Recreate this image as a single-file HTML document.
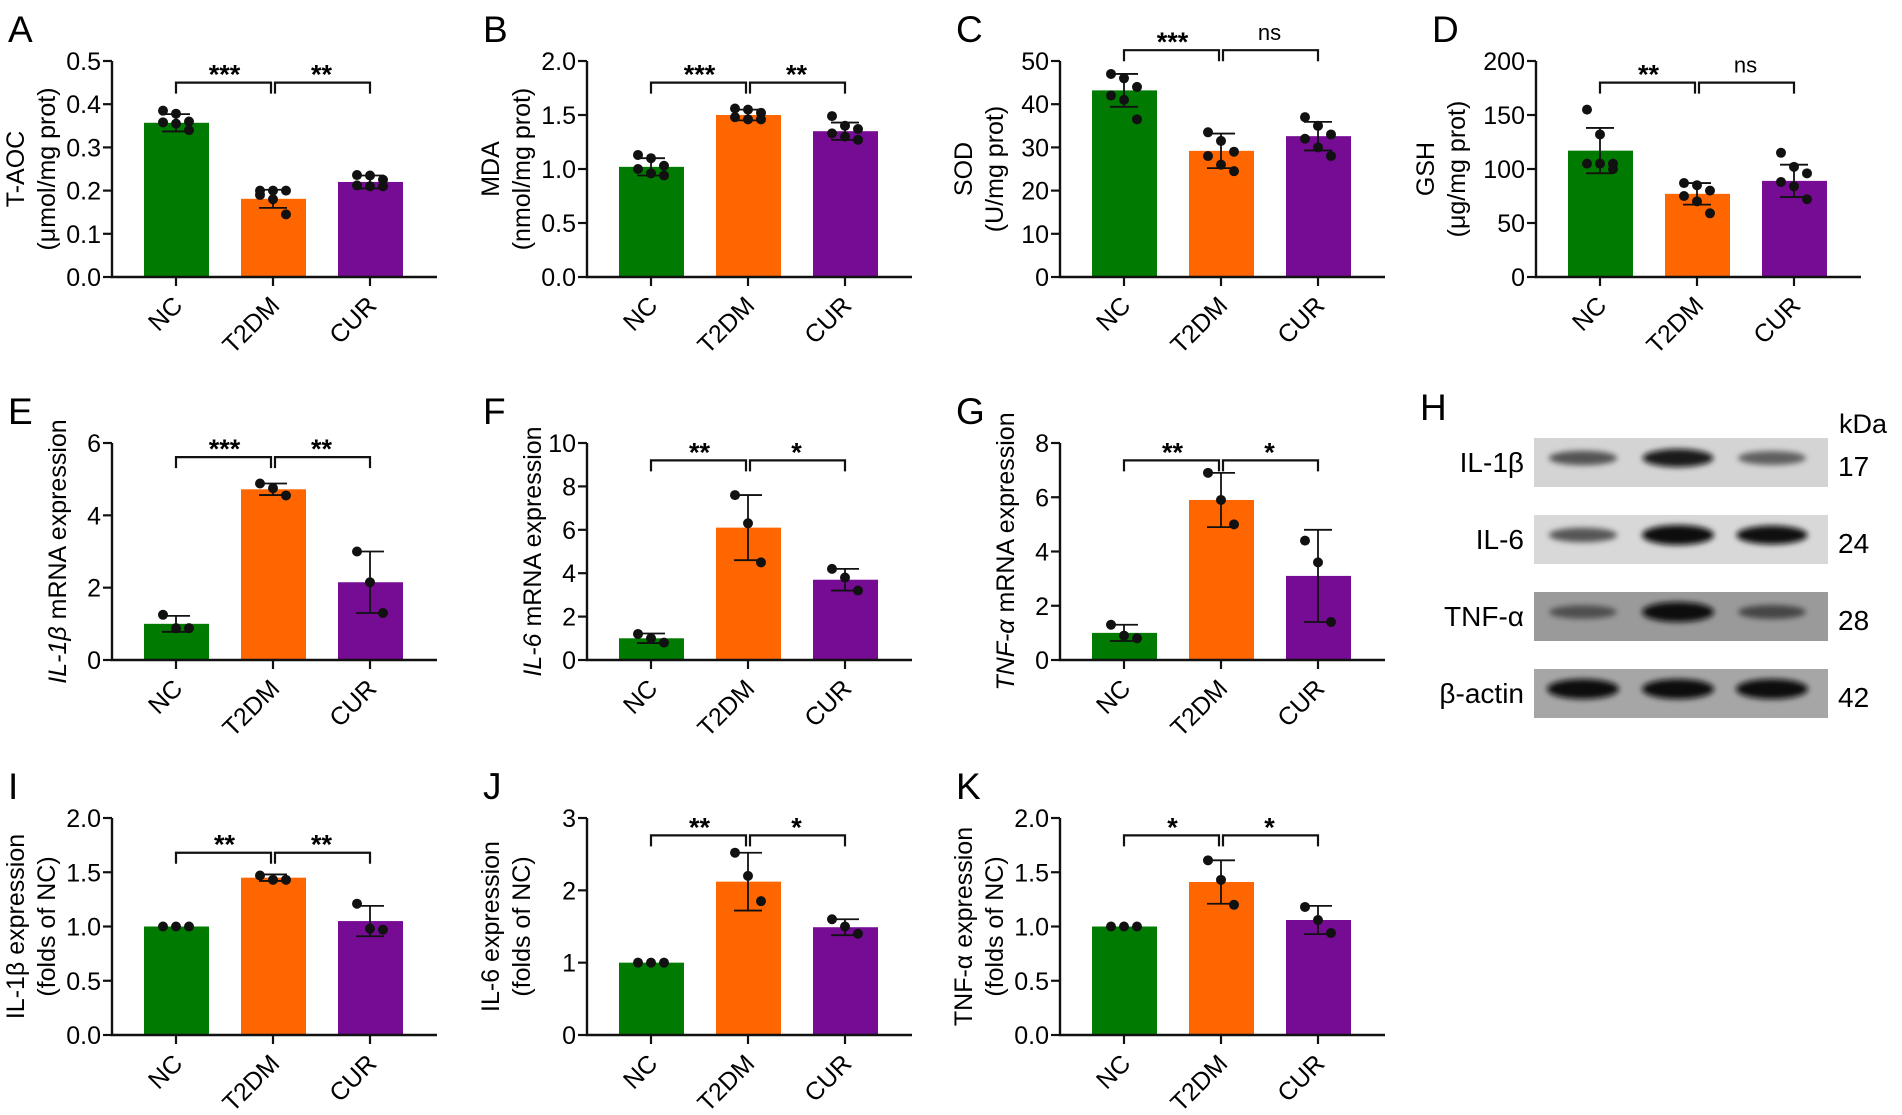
<!DOCTYPE html>
<html><head><meta charset="utf-8"><style>
html,body{margin:0;padding:0;background:#fff;}
svg{display:block;font-family:"Liberation Sans",sans-serif;}
</style></head><body>
<svg id="fig" width="1902" height="1115" viewBox="0 0 1902 1115" xmlns="http://www.w3.org/2000/svg">
<defs>
<filter id="blur" x="-20%" y="-100%" width="140%" height="300%"><feGaussianBlur stdDeviation="3"/></filter>
</defs>
<g id="blot"></g>
</svg>
<script>
const groups = ["NC","T2DM","CUR"];
const colors = ["#007a00","#ff6600","#760b94"];
const panelLetters = ["A","B","C","D","E","F","G","I","J","K"];
const yMaxes = [0.5,2.0,50,200,6,10,8,2.0,3,2.0];
const yTicksA = ["0.0","0.1","0.2","0.3","0.4","0.5"];
const yTicksB = ["0.0","0.5","1.0","1.5","2.0"];
const yTicksC = ["0","10","20","30","40","50"];
const yTicksD = ["0","50","100","150","200"];
const yTicksE = ["0","2","4","6"];
const yTicksF = ["0","2","4","6","8","10"];
const yTicksG = ["0","2","4","6","8"];
const yTicksI = ["0.0","0.5","1.0","1.5","2.0"];
const yTicksJ = ["0","1","2","3"];
const yTicksK = ["0.0","0.5","1.0","1.5","2.0"];
const meansA=[0.357,0.181,0.220], sdA=[0.020,0.021,0.015];
const ptsA=[[0.385,0.378,0.360,0.358,0.355,0.340],[0.200,0.200,0.200,0.190,0.180,0.145],[0.236,0.235,0.225,0.212,0.210,0.210]];
const meansB=[1.02,1.50,1.35], sdB=[0.08,0.05,0.08];
const ptsB=[[1.13,1.10,1.03,1.00,0.96,0.94],[1.56,1.55,1.52,1.48,1.46,1.46],[1.49,1.40,1.37,1.33,1.30,1.27]];
const meansC=[43.2,29.2,32.6], sdC=[3.8,4.0,3.3];
const ptsC=[[47,46,44,42,41,36.5],[33.5,31.5,29,28,26,24.5],[37,35,33,32,30,28]];
const meansD=[117,77,89], sdD=[21,10,15];
const ptsD=[[155,132,105,105,105,100],[87,85,80,75,70,59],[115,102,96,88,84,72]];
const meansE=[1.0,4.72,2.15], sdE=[0.22,0.16,0.85];
const ptsE=[[1.25,0.88,0.88],[4.88,4.75,4.55],[3.0,2.15,1.3]];
const meansF=[1.0,6.1,3.7], sdF=[0.22,1.5,0.5];
const ptsF=[[1.2,1.0,0.8],[7.6,6.3,4.5],[4.2,3.8,3.2]];
const meansG=[1.0,5.9,3.1], sdG=[0.3,1.0,1.7];
const ptsG=[[1.3,0.9,0.8],[6.9,5.9,5.0],[4.4,3.6,1.4]];
const meansI=[1.0,1.45,1.05], sdI=[0.0,0.03,0.14];
const ptsI=[[1.0,1.0,1.0],[1.47,1.43,1.43],[1.21,0.98,0.97]];
const meansJ=[1.0,2.12,1.49], sdJ=[0.0,0.40,0.11];
const ptsJ=[[1.0,1.0,1.0],[2.52,2.2,1.85],[1.6,1.5,1.4]];
const meansK=[1.0,1.41,1.06], sdK=[0.0,0.2,0.13];
const ptsK=[[1.0,1.0,1.0],[1.61,1.43,1.2],[1.18,1.06,0.94]];
const sigLeft=["***","***","***","**","***","**","**","**","**","*"];
const sigRight=["**","**","ns","ns","**","*","*","**","*","*"];
const bracketFrac=[0.9,0.9,1.05,0.9,0.935,0.92,0.92,0.84,0.92,0.92];

const allTicks=[yTicksA,yTicksB,yTicksC,yTicksD,yTicksE,yTicksF,yTicksG,yTicksI,yTicksJ,yTicksK];
const allMeans=[meansA,meansB,meansC,meansD,meansE,meansF,meansG,meansI,meansJ,meansK];
const allSd=[sdA,sdB,sdC,sdD,sdE,sdF,sdG,sdI,sdJ,sdK];
const allPts=[ptsA,ptsB,ptsC,ptsD,ptsE,ptsF,ptsG,ptsI,ptsJ,ptsK];
const titles=[["T-AOC","(μmol/mg prot)"],["MDA","(nmol/mg prot)"],["SOD","(U/mg prot)"],["GSH","(μg/mg prot)"],
 [null,"IL-1β"],[null,"IL-6"],[null,"TNF-α"],
 ["IL-1β expression","(folds of NC)"],["IL-6 expression","(folds of NC)"],["TNF-α expression","(folds of NC)"]];
const axX=[112,587,1060,1536,112,587,1060,112,587,1060];
const titleShift=[0,0,0,14,0,0,0,0,0,0];
const rows=[[61,277],[443,660],[818,1035]];
const rowOf=[0,0,0,0,1,1,1,2,2,2];

const NS="http://www.w3.org/2000/svg";
const svg=document.getElementById('fig');
function mk(tag,attrs,parent,text){const e=document.createElementNS(NS,tag);for(const k in attrs)e.setAttribute(k,attrs[k]);if(text!==undefined)e.textContent=text;(parent||svg).appendChild(e);return e;}

for(let p=0;p<10;p++){
  const g=mk('g',{});
  
  
  const x0=axX[p],top=rows[rowOf[p]][0],bot=rows[rowOf[p]][1];
  const ymax=yMaxes[p];
  const Y=v=>bot-(v/ymax)*(bot-top);
  const X=i=>x0+64+i*97;
  const L=mk('text',{x:x0-104,y:top-19,'font-size':37},g,panelLetters[p]);
  
  
  for(let i=0;i<3;i++){
    const b=mk('rect',{x:X(i)-32,y:Y(allMeans[p][i]),width:65,height:bot-Y(allMeans[p][i]),fill:colors[i]},g);
    
    
  }
  const ax=mk('path',{d:`M${x0} ${top}V${bot}H${x0+325}`,stroke:'#111','stroke-width':2.4,fill:'none'},g);
  
  
  const ticks=allTicks[p];
  ticks.forEach((t,k)=>{
    const v=k*ymax/(ticks.length-1);
    mk('line',{x1:x0-9,x2:x0,y1:Y(v),y2:Y(v),stroke:'#111','stroke-width':2.2},g);
    const tl=mk('text',{x:x0-11,y:Y(v)+9,'font-size':25,'text-anchor':'end'},g,t);
    
    
  });
  for(let i=0;i<3;i++){
    mk('line',{x1:X(i),x2:X(i),y1:bot,y2:bot+9,stroke:'#111','stroke-width':2.2},g);
    const xl=mk('text',{x:X(i)+8,y:bot+30,'font-size':25,'text-anchor':'end',transform:`rotate(-45 ${X(i)+8} ${bot+30})`},g,groups[i]);
    
    
    const m=allMeans[p][i],s=allSd[p][i];
    if(s>0){
      mk('path',{d:`M${X(i)} ${Y(m+s)}V${Y(m-s)}M${X(i)-14} ${Y(m+s)}h28M${X(i)-14} ${Y(m-s)}h28`,stroke:'#111','stroke-width':1.8,fill:'none'},g);
    }
    const pts=allPts[p][i];
    const n=pts.length;
    pts.forEach((v,j)=>{
      const off=n===6?[-13,0,13,-13,0,13][j]:[-13,0,13][j];
      const d=mk('circle',{cx:X(i)+off,cy:Y(v),r:5,fill:'#111'},g);
      
      
    });
  }
  const by=bot-bracketFrac[p]*(bot-top);
  mk('path',{d:`M${X(0)} ${by+11}V${by}H${X(1)-2}V${by+11}M${X(1)+2} ${by+11}V${by}H${X(2)}V${by+11}`,stroke:'#111','stroke-width':2.2,fill:'none'},g);
  const s1=mk('text',{x:(X(0)+X(1))/2,y:sigLeft[p]==='ns'?by-8:by+1,'font-size':sigLeft[p]==='ns'?22:27,'font-weight':'bold','text-anchor':'middle'},g,sigLeft[p]);
  
  
  const s2=mk('text',{x:(X(1)+X(2))/2,y:sigRight[p]==='ns'?by-10:by+1,'font-size':sigRight[p]==='ns'?22:27,'font-weight':sigRight[p]==='ns'?'normal':'bold','text-anchor':'middle'},g,sigRight[p]);
  
  
  const cy=(top+bot)/2;
  const tt=titles[p];
  const sh=titleShift[p];
  if(tt[0]===null){
    const t=mk('text',{x:x0-46,y:cy,'font-size':25,'text-anchor':'middle',transform:`rotate(-90 ${x0-46} ${cy})`},g);
    
    
    mk('tspan',{'font-style':'italic'},t,tt[1]);
    mk('tspan',{},t,' mRNA expression');
  } else {
    const t1=mk('text',{x:x0-88-sh,y:cy,'font-size':25,'text-anchor':'middle',transform:`rotate(-90 ${x0-88-sh} ${cy})`},g,tt[0]);
    
    
    const t2=mk('text',{x:x0-57-sh,y:cy,'font-size':25,'text-anchor':'middle',transform:`rotate(-90 ${x0-57-sh} ${cy})`},g,tt[1]);
    
    
  }
}

const blotNames=["IL-1β","IL-6","TNF-α","β-actin"];
const blotKda=["17","24","28","42"];
const blotBg=["#d4d4d4","#d8d8d8","#9a9a9a","#a6a6a6"];
const blotIntensity=[[0.55,0.85,0.5],[0.55,1.0,0.9],[0.45,1.0,0.5],[1.0,1.0,1.0]];
const blot=document.getElementById('blot');
mk('text',{x:1420,y:420,'font-size':37},blot,'H');
const kd=mk('text',{x:1839,y:433,'font-size':27},blot,'kDa');


const laneX=[1583,1678,1772];
blotNames.forEach((nm,r)=>{
  const y=438+r*77;
  const bg=mk('rect',{x:1534,y:y,width:294,height:49,fill:blotBg[r]},blot);
  
  
  laneX.forEach((lx,i)=>{
    const a=blotIntensity[r][i];
    const b=mk('ellipse',{cx:lx,cy:y+20,rx:32+a*4,ry:4+a*6,fill:'#0a0a0a','fill-opacity':Math.min(1,a*1.1),filter:'url(#blur)'},blot);
    
    
  });
  const l=mk('text',{x:1524,y:y+34,'font-size':28,'text-anchor':'end'},blot,nm);
  
  
  const k=mk('text',{x:1838,y:y+38,'font-size':28},blot,blotKda[r]);
  
  
});
</script>
</body></html>
